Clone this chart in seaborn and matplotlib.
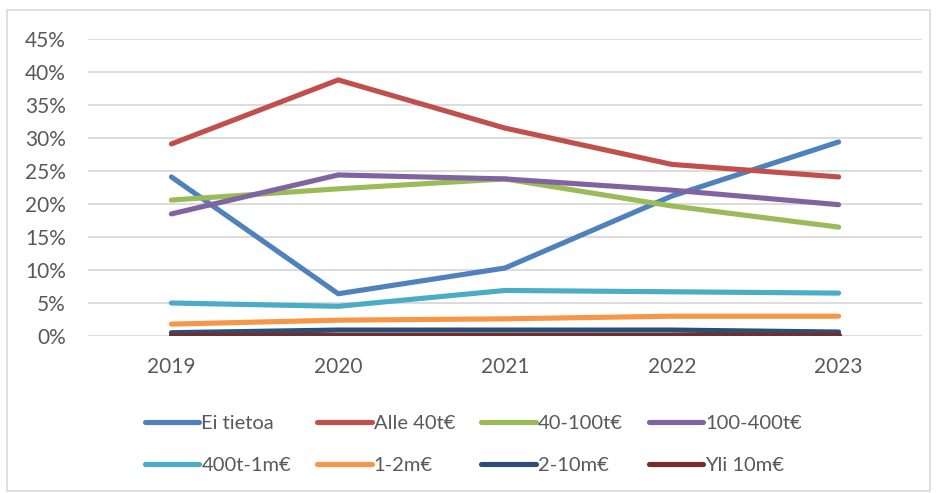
import matplotlib
matplotlib.use("Agg")
import matplotlib.pyplot as plt
import matplotlib.patches as mpatches
import seaborn as sns
import pandas as pd
from matplotlib.ticker import PercentFormatter

years = ["2019", "2020", "2021", "2022", "2023"]
series_names = ["Ei tietoa", "Alle 40t€", "40-100t€", "100-400t€",
                "400t-1m€", "1-2m€", "2-10m€", "Yli 10m€"]
ei_tietoa = [24.1, 6.4, 10.3, 21.2, 29.4]
alle_40t = [29.1, 38.8, 31.5, 26.0, 24.1]
t40_100 = [20.6, 22.3, 23.8, 19.7, 16.5]
t100_400 = [18.5, 24.4, 23.8, 22.1, 19.9]
t400_1m = [5.0, 4.5, 6.9, 6.7, 6.5]
m1_2 = [1.8, 2.4, 2.6, 3.0, 3.0]
m2_10 = [0.5, 0.9, 0.9, 0.9, 0.6]
yli_10m = [0.2, 0.2, 0.2, 0.2, 0.2]
colors = ["#4F81BD", "#C0504D", "#9BBB59", "#8064A2",
          "#4BACC6", "#F79646", "#2C4D75", "#772C2A"]
yticks = [0, 5, 10, 15, 20, 25, 30, 35, 40, 45]

all_vals = [ei_tietoa, alle_40t, t40_100, t100_400, t400_1m, m1_2, m2_10, yli_10m]
rows = []
for name, vals in zip(series_names, all_vals):
    for y, v in zip(years, vals):
        rows.append({"Vuosi": y, "Osuus": v, "Sarja": name})
df = pd.DataFrame(rows)

sns.set_style("white")
plt.rcParams["font.family"] = ["Lato", "DejaVu Sans"]

fig = plt.figure(figsize=(9.37, 4.93), dpi=100)
ax = fig.add_axes([88/937, 1-336/493, (922-88)/937, (336-39)/493])

sns.lineplot(data=df, x="Vuosi", y="Osuus", hue="Sarja", hue_order=series_names,
             palette=colors, linewidth=3.7, sort=False, ax=ax, legend=False,
             solid_capstyle="round")

ax.set_xlim(-0.5, 4.5)
ax.set_ylim(0, 45)
ax.set_yticks(yticks)
ax.yaxis.set_major_formatter(PercentFormatter(decimals=0))
ax.grid(axis="y", color="#D9D9D9", linewidth=1.3)
ax.set_axisbelow(True)
for s in ax.spines.values():
    s.set_visible(False)
ax.tick_params(axis="both", length=0, labelsize=15, colors="#595959")
ax.tick_params(axis="y", pad=16)
ax.tick_params(axis="x", pad=15)
ax.set_xlabel("")
ax.set_ylabel("")

handles = [plt.Line2D([0], [0], color=c, linewidth=3.7, solid_capstyle="round")
           for c in colors]
# matplotlib fills legend columns first; reorder so rows read like the reference
order = [0, 4, 1, 5, 2, 6, 3, 7]
fig.legend([handles[i] for i in order], [series_names[i] for i in order],
           ncol=4, loc="upper left",
           bbox_to_anchor=(145/937, 1-415/493), frameon=False,
           borderpad=0, borderaxespad=0,
           fontsize=14.5, labelcolor="#595959", handlelength=2.7,
           handletextpad=0.1, columnspacing=1.3, labelspacing=1.25)

fig.patches.append(mpatches.Rectangle((7/937, 2/493), (930-7)/937, (483-2)/493,
                                      transform=fig.transFigure, fill=False,
                                      edgecolor="#D9D9D9", linewidth=1.2))

fig.savefig("out.png", dpi=100)
